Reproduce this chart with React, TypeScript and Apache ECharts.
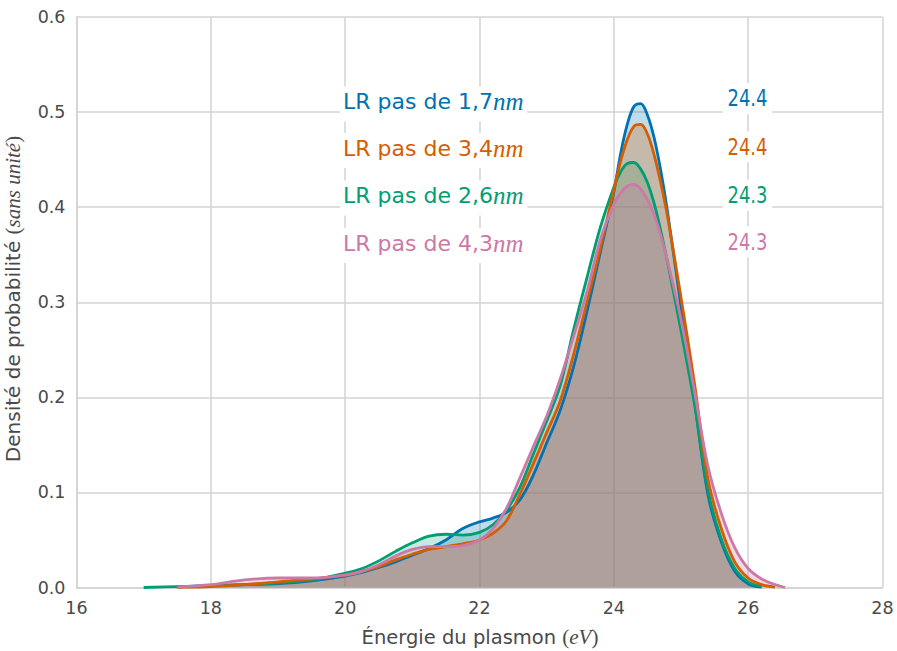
import React, { useEffect, useRef } from "react";
import * as echarts from "echarts";

// Energy grid (eV)
const energies = [
  17.0, 17.5, 18.0, 18.5, 19.0, 19.5, 20.0, 20.25, 20.5, 20.75, 21.0, 21.25, 21.5, 21.75,
  22.0, 22.2, 22.4, 22.6, 22.8, 23.0, 23.2, 23.4, 23.6, 23.8, 24.0, 24.1, 24.2, 24.3, 24.4,
  24.5, 24.6, 24.7, 24.8, 25.0, 25.2, 25.4, 25.6, 25.8, 26.0, 26.2, 26.4, 26.55,
];

// Density for each step size
const pas17: (number | null)[] = [
  null, 0.0005, 0.002, 0.003, 0.004, 0.007, 0.012, 0.016, 0.021, 0.027, 0.034, 0.041, 0.05, 0.062,
  0.069, 0.073, 0.079, 0.092, 0.118, 0.152, 0.186, 0.232, 0.29, 0.353, 0.416, 0.456, 0.487, 0.506, 0.509,
  0.497, 0.473, 0.438, 0.395, 0.295, 0.197, 0.098, 0.048, 0.017, 0.004, 0.0005, null, null,
];
const pas34: (number | null)[] = [
  null, 0.0003, 0.001, 0.003, 0.006, 0.009, 0.013, 0.017, 0.022, 0.029, 0.035, 0.04, 0.043, 0.046,
  0.05, 0.057, 0.07, 0.098, 0.13, 0.163, 0.196, 0.245, 0.3, 0.357, 0.418, 0.448, 0.471, 0.485, 0.487,
  0.477, 0.455, 0.425, 0.39, 0.305, 0.215, 0.115, 0.062, 0.027, 0.01, 0.003, 0.0005, null,
];
const pas26: (number | null)[] = [
  0.0, 0.001, 0.002, 0.003, 0.005, 0.008, 0.015, 0.02, 0.028, 0.038, 0.047, 0.054, 0.056, 0.055,
  0.058, 0.066, 0.081, 0.105, 0.14, 0.175, 0.212, 0.271, 0.326, 0.379, 0.421, 0.437, 0.446, 0.447, 0.44,
  0.426, 0.404, 0.375, 0.342, 0.27, 0.193, 0.103, 0.051, 0.02, 0.006, 0.001, null, null,
];
const pas43: (number | null)[] = [
  null, 0.0005, 0.003, 0.008, 0.01, 0.01, 0.013, 0.017, 0.024, 0.033, 0.04, 0.043, 0.043, 0.044,
  0.05, 0.062, 0.083, 0.115, 0.148, 0.18, 0.219, 0.264, 0.311, 0.366, 0.403, 0.415, 0.422, 0.424, 0.419,
  0.408, 0.392, 0.37, 0.343, 0.282, 0.207, 0.128, 0.078, 0.042, 0.02, 0.009, 0.003, 0.0,
];

const seriesValues = [pas17, pas34, pas26, pas43];
const stepLabels = ["1,7", "3,4", "2,6", "4,3"];
const peakLabels = ["24.4", "24.4", "24.3", "24.3"];
const colors = ["#0072B2", "#D55E00", "#009E73", "#CC79A7"];
const fillOpacity = [0.25, 0.27, 0.22, 0.28];
const drawOrder = [0, 2, 1, 3];

const SANS = "DejaVu Sans";
const SERIF = "Liberation Serif";
const TXT = "#4a4a4a";
const GRID = "#d3d3d3";

export default function App() {
  const ref = useRef<HTMLDivElement>(null);
  useEffect(() => {
    if (!ref.current) return;
    const chart = echarts.init(ref.current, undefined, { renderer: "svg" });

    const series = drawOrder.map((i) => ({
      type: "line",
      name: "LR pas de " + stepLabels[i],
      data: energies
        .map((e, k) => [e, seriesValues[i][k]])
        .filter((p) => p[1] !== null),
      smooth: 0.35,
      showSymbol: false,
      symbol: "none",
      lineStyle: { color: colors[i], width: 2.8 },
      itemStyle: { color: colors[i] },
      areaStyle: { color: colors[i], opacity: fillOpacity[i] },
      silent: true,
      z: 2,
    }));

    const labelRowsY = [104, 150.5, 198, 245.5];
    const peakRowsY = [98.5, 146.8, 195.3, 241.7];

    const graphics: any[] = [];
    stepLabels.forEach((s, i) => {
      graphics.push({
        type: "text",
        x: 340,
        y: labelRowsY[i],
        z: 10,
        silent: true,
        style: {
          text: "{a|LR pas de " + s + "}{b|nm}",
          verticalAlign: "middle",
          align: "left",
          backgroundColor: "#ffffff",
          padding: [3, 4, 8, 3],
          rich: {
            a: { fontFamily: SANS, fontSize: 22, fill: colors[i], lineHeight: 24 },
            b: { fontFamily: SERIF, fontStyle: "italic", fontSize: 25, fill: colors[i], lineHeight: 24 },
          },
        },
      });
      graphics.push({
        type: "text",
        x: 747.5,
        y: peakRowsY[i],
        scaleX: 0.78,
        z: 10,
        silent: true,
        style: {
          text: peakLabels[i],
          fontFamily: SANS,
          fontSize: 23,
          lineHeight: 24,
          fill: colors[i],
          align: "center",
          verticalAlign: "middle",
          backgroundColor: "#ffffff",
          padding: [1, 6, 6, 6],
        },
      });
    });

    graphics.push({
      type: "text",
      x: 12.5,
      y: 299,
      rotation: Math.PI / 2,
      silent: true,
      style: {
        text: "{a|Densité de probabilité }{p|(}{b|sans unité}{p|)}",
        align: "center",
        verticalAlign: "middle",
        rich: {
          a: { fontFamily: SANS, fontSize: 20, fill: TXT },
          p: { fontFamily: SERIF, fontSize: 21, fill: TXT },
          b: { fontFamily: SERIF, fontStyle: "italic", fontSize: 21, fill: TXT },
        },
      },
    });
    graphics.push({
      type: "text",
      x: 480,
      y: 637,
      silent: true,
      style: {
        text: "{a|Énergie du plasmon }{p|(}{b|eV}{p|)}",
        align: "center",
        verticalAlign: "middle",
        rich: {
          a: { fontFamily: SANS, fontSize: 19.5, fill: TXT },
          p: { fontFamily: SERIF, fontSize: 21, fill: TXT },
          b: { fontFamily: SERIF, fontStyle: "italic", fontSize: 21, fill: TXT },
        },
      },
    });

    chart.setOption({
      animation: false,
      backgroundColor: "#ffffff",
      grid: { left: 76.5, right: 14.5, top: 17, bottom: 63.5, containLabel: false },
      xAxis: {
        type: "value",
        min: 16,
        max: 28,
        interval: 2,
        axisLine: { show: true, lineStyle: { color: GRID, width: 1.5 } },
        axisTick: { show: false },
        axisLabel: { color: TXT, fontFamily: SANS, fontSize: 17.5, margin: 11 },
        splitLine: { show: true, lineStyle: { color: GRID, width: 1.5 } },
      },
      yAxis: {
        type: "value",
        min: 0,
        max: 0.6,
        interval: 0.1,
        axisLine: { show: true, lineStyle: { color: GRID, width: 1.5 } },
        axisTick: { show: false },
        axisLabel: {
          color: TXT,
          fontFamily: SANS,
          fontSize: 17.5,
          margin: 11,
          formatter: (v: number) => v.toFixed(1),
        },
        splitLine: { show: true, lineStyle: { color: GRID, width: 1.5 } },
      },
      series,
      graphic: graphics,
    });

    return () => chart.dispose();
  }, []);

  return (
    <div
      ref={ref}
      style={{ position: "fixed", left: 0, top: 0, width: 897, height: 651 }}
    />
  );
}
